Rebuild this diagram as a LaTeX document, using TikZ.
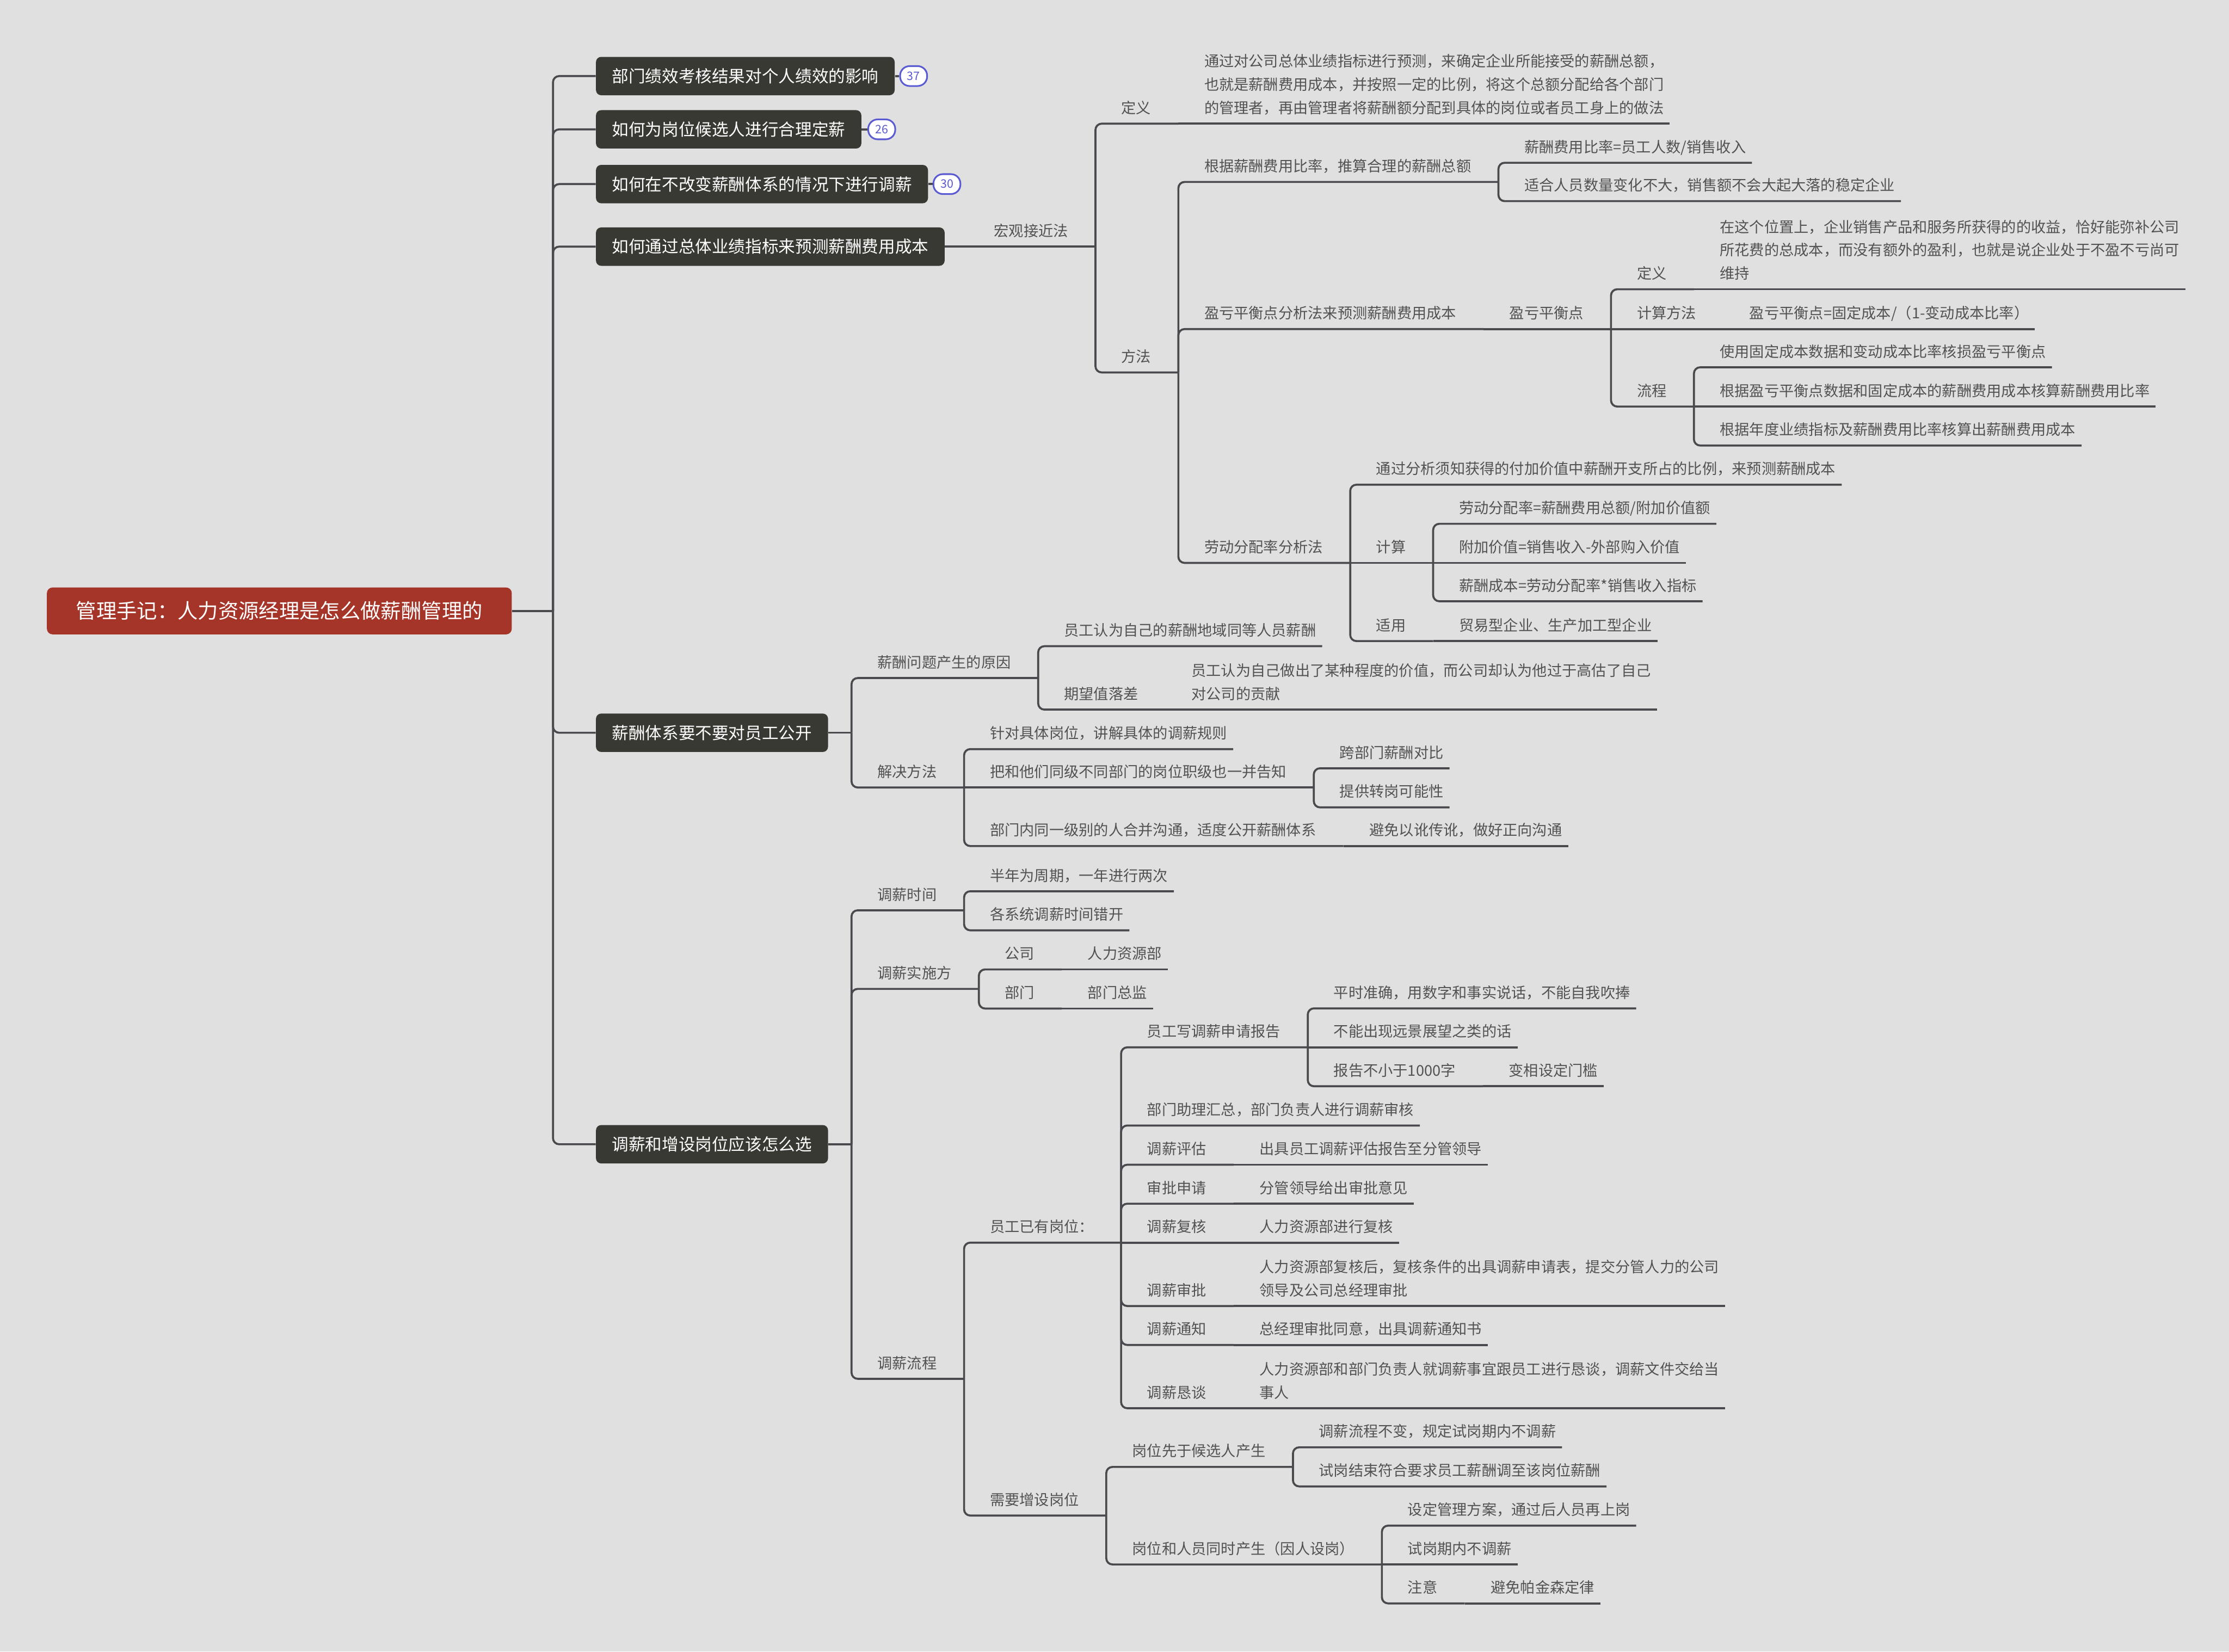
\documentclass[tikz,border=0pt]{standalone}
\usepackage{fontspec}
\setmainfont{Noto Sans CJK SC}
\usepackage{tikz}
\usetikzlibrary{positioning}
\definecolor{bggray}{RGB}{224,224,224}
\definecolor{rootred}{RGB}{165,53,40}
\definecolor{boxdark}{RGB}{57,57,52}
\definecolor{linegray}{RGB}{74,74,78}
\definecolor{txtgray}{RGB}{82,82,82}
\definecolor{badgeblue}{RGB}{90,90,210}
\newcommand\paralines[1]{\begin{tabular}[b]{@{}l@{}}#1\end{tabular}}
\tikzset{
    rootbox/.style={rectangle, rounded corners=0.12cm, fill=rootred, text=white, font=\fontsize{12.2}{14}\selectfont, minimum width=9.81cm, minimum height=0.99cm, inner xsep=0.3cm},
    mainbox/.style={rectangle, rounded corners=0.11cm, fill=boxdark, text=white, font=\fontsize{10}{12}\selectfont, minimum height=0.81cm, inner xsep=0.34cm, anchor=west},
    badge/.style={rectangle, rounded corners=0.2cm, draw=badgeblue, line width=1pt, fill=white, text=badgeblue, font=\fontsize{7}{8}\selectfont, minimum width=0.57cm, minimum height=0.42cm, inner sep=0pt},
    topic/.style={anchor=south west, inner xsep=0pt, inner ysep=0.13cm, text depth=0.08cm, text=txtgray, font=\fontsize{8.9}{14}\selectfont, execute at begin node={\hspace*{0.54cm}}},
    leafnode/.style={topic, execute at end node={\hspace*{0.12cm}}},
    stemnode/.style={topic, execute at end node={\hspace*{0.57cm}}},
    branch/.style={draw=linegray, line width=1.2pt, rounded corners=0.13cm}
}

\begin{document}
\begin{tikzpicture}[x=0.03cm, y=-0.03cm]
    % Background
    \fill[bggray] (0,0) rectangle (1568,1162);

    % Central topic
    \node[rootbox] (root) at (196.5,429.8) {管理手记：人力资源经理是怎么做薪酬管理的};
    \coordinate (trunk) at (389,429.8);

    % Main topics
    \node[mainbox] (m1) at (419,53.5) {部门绩效考核结果对个人绩效的影响};
    \node[mainbox] (m2) at (419,91) {如何为岗位候选人进行合理定薪};
    \node[mainbox] (m3) at (419,129.5) {如何在不改变薪酬体系的情况下进行调薪};
    \node[mainbox] (m4) at (419,173.5) {如何通过总体业绩指标来预测薪酬费用成本};
    \node[mainbox] (m5) at (419,515.5) {薪酬体系要不要对员工公开};
    \node[mainbox] (m6) at (419,805) {调薪和增设岗位应该怎么选};

    % Badges
    \node[badge, right=0.09cm of m1] (b1) {37};
    \node[badge, right=0.12cm of m2] (b2) {26};
    \node[badge, right=0.09cm of m3] (b3) {30};

    % Forecasting the salary cost
    \node[stemnode] (macro) at (681,173.5) {宏观接近法};
    \node[stemnode] (def) at (macro.south east |- 0,87) {定义};
    \node[leafnode] (defText) at (def.south east) {\paralines{通过对公司总体业绩指标进行预测，来确定企业所能接受的薪酬总额，\\也就是薪酬费用成本，并按照一定的比例，将这个总额分配给各个部门\\的管理者，再由管理者将薪酬额分配到具体的岗位或者员工身上的做法}};
    \node[stemnode] (method) at (macro.south east |- 0,262) {方法};
    \node[stemnode] (ratio) at (method.south east |- 0,128) {根据薪酬费用比率，推算合理的薪酬总额};
    \node[leafnode] (ratioFormula) at (ratio.south east |- 0,114.5) {薪酬费用比率=员工人数/销售收入};
    \node[leafnode] (ratioFit) at (ratio.south east |- 0,141.5) {适合人员数量变化不大，销售额不会大起大落的稳定企业};
    \node[stemnode] (breakeven) at (method.south east |- 0,231.5) {盈亏平衡点分析法来预测薪酬费用成本};
    \node[stemnode] (bepoint) at (breakeven.south east) {盈亏平衡点};
    \node[stemnode] (bepDef) at (bepoint.south east |- 0,203.5) {定义};
    \node[leafnode] (bepDefText) at (bepDef.south east) {\paralines{在这个位置上，企业销售产品和服务所获得的的收益，恰好能弥补公司\\所花费的总成本，而没有额外的盈利，也就是说企业处于不盈不亏尚可\\维持}};
    \node[stemnode] (bepCalc) at (bepoint.south east) {计算方法};
    \node[leafnode] (bepFormula) at (bepCalc.south east) {盈亏平衡点=固定成本/（1-变动成本比率）};
    \node[stemnode] (bepFlow) at (bepoint.south east |- 0,286) {流程};
    \node[leafnode] (flow1) at (bepFlow.south east |- 0,258.4) {使用固定成本数据和变动成本比率核损盈亏平衡点};
    \node[leafnode] (flow2) at (bepFlow.south east) {根据盈亏平衡点数据和固定成本的薪酬费用成本核算薪酬费用比率};
    \node[leafnode] (flow3) at (bepFlow.south east |- 0,313.4) {根据年度业绩指标及薪酬费用比率核算出薪酬费用成本};
    \node[stemnode] (labor) at (method.south east |- 0,396) {劳动分配率分析法};
    \node[leafnode] (laborDef) at (labor.south east |- 0,341) {通过分析须知获得的付加价值中薪酬开支所占的比例，来预测薪酬成本};
    \node[stemnode] (laborCalc) at (labor.south east) {计算};
    \node[leafnode] (calc1) at (laborCalc.south east |- 0,368.5) {劳动分配率=薪酬费用总额/附加价值额};
    \node[leafnode] (calc2) at (laborCalc.south east) {附加价值=销售收入-外部购入价值};
    \node[leafnode] (calc3) at (laborCalc.south east |- 0,423) {薪酬成本=劳动分配率*销售收入指标};
    \node[stemnode] (laborUse) at (labor.south east |- 0,451) {适用};
    \node[leafnode] (laborUseText) at (laborUse.south east) {贸易型企业、生产加工型企业};

    % Disclosure of the pay system
    \coordinate (fork5) at (599,515.5);
    \node[stemnode] (cause) at (fork5 |- 0,477) {薪酬问题产生的原因};
    \node[leafnode] (cause1) at (cause.south east |- 0,454.6) {员工认为自己的薪酬地域同等人员薪酬};
    \node[stemnode] (gap) at (cause.south east |- 0,499.2) {期望值落差};
    \node[leafnode] (gapText) at (gap.south east) {\paralines{员工认为自己做出了某种程度的价值，而公司却认为他过于高估了自己\\对公司的贡献}};
    \node[stemnode] (solve) at (fork5 |- 0,554) {解决方法};
    \node[leafnode] (solve1) at (solve.south east |- 0,527) {针对具体岗位，讲解具体的调薪规则};
    \node[stemnode] (solve2) at (solve.south east) {把和他们同级不同部门的岗位职级也一并告知};
    \node[leafnode] (cross) at (solve2.south east |- 0,540.5) {跨部门薪酬对比};
    \node[leafnode] (transfer) at (solve2.south east |- 0,568) {提供转岗可能性};
    \node[stemnode] (solve3) at (solve.south east |- 0,595.2) {部门内同一级别的人合并沟通，适度公开薪酬体系};
    \node[leafnode] (rumor) at (solve3.south east) {避免以讹传讹，做好正向沟通};

    % Adjustment and new posts
    \coordinate (fork6) at (599,805);
    \node[stemnode] (timing) at (fork6 |- 0,640.4) {调薪时间};
    \node[leafnode] (time1) at (timing.south east |- 0,627) {半年为周期，一年进行两次};
    \node[leafnode] (time2) at (timing.south east |- 0,654.5) {各系统调薪时间错开};
    \node[stemnode] (actor) at (fork6 |- 0,695.7) {调薪实施方};
    \node[stemnode] (company) at (actor.south east |- 0,682) {公司};
    \node[leafnode] (hr) at (company.south east) {人力资源部};
    \node[stemnode] (dept) at (actor.south east |- 0,709.5) {部门};
    \node[leafnode] (director) at (dept.south east) {部门总监};
    \node[stemnode] (process) at (fork6 |- 0,970) {调薪流程};
    \node[stemnode] (existing) at (process.south east |- 0,874.2) {员工已有岗位：};
    \node[stemnode] (report) at (existing.south east |- 0,736.8) {员工写调薪申请报告};
    \node[leafnode] (rep1) at (report.south east |- 0,709.4) {平时准确，用数字和事实说话，不能自我吹捧};
    \node[leafnode] (rep2) at (report.south east) {不能出现远景展望之类的话};
    \node[stemnode] (rep3) at (report.south east |- 0,764.2) {报告不小于1000字};
    \node[leafnode] (threshold) at (rep3.south east) {变相设定门槛};
    \node[leafnode] (summary) at (existing.south east |- 0,791.8) {部门助理汇总，部门负责人进行调薪审核};
    \node[stemnode] (assess) at (existing.south east |- 0,819.4) {调薪评估};
    \node[leafnode] (assessText) at (assess.south east) {出具员工调薪评估报告至分管领导};
    \node[stemnode] (apply) at (existing.south east |- 0,846.8) {审批申请};
    \node[leafnode] (applyText) at (apply.south east) {分管领导给出审批意见};
    \node[stemnode] (review) at (existing.south east) {调薪复核};
    \node[leafnode] (reviewText) at (review.south east) {人力资源部进行复核};
    \node[stemnode] (approve) at (existing.south east |- 0,918.8) {调薪审批};
    \node[leafnode] (approveText) at (approve.south east) {\paralines{人力资源部复核后，复核条件的出具调薪申请表，提交分管人力的公司\\领导及公司总经理审批}};
    \node[stemnode] (notice) at (existing.south east |- 0,946.2) {调薪通知};
    \node[leafnode] (noticeText) at (notice.south east) {总经理审批同意，出具调薪通知书};
    \node[stemnode] (talk) at (existing.south east |- 0,990.7) {调薪恳谈};
    \node[leafnode] (talkText) at (talk.south east) {\paralines{人力资源部和部门负责人就调薪事宜跟员工进行恳谈，调薪文件交给当\\事人}};
    \node[stemnode] (newpost) at (process.south east |- 0,1066.2) {需要增设岗位};
    \node[stemnode] (postFirst) at (newpost.south east |- 0,1032) {岗位先于候选人产生};
    \node[leafnode] (pf1) at (postFirst.south east |- 0,1018.2) {调薪流程不变，规定试岗期内不调薪};
    \node[leafnode] (pf2) at (postFirst.south east |- 0,1045.7) {试岗结束符合要求员工薪酬调至该岗位薪酬};
    \node[stemnode] (postSame) at (newpost.south east |- 0,1100.6) {岗位和人员同时产生（因人设岗）};
    \node[leafnode] (ps1) at (postSame.south east |- 0,1073.3) {设定管理方案，通过后人员再上岗};
    \node[leafnode] (ps2) at (postSame.south east) {试岗期内不调薪};
    \node[stemnode] (note) at (postSame.south east |- 0,1128) {注意};
    \node[leafnode] (parkinson) at (note.south east) {避免帕金森定律};

    % Connectors
    \draw[branch] (root.east) -- (trunk);
    \foreach \m in {m1,m2,m3,m4,m5,m6}
        \draw[branch] (trunk) |- (\m.west);
    \foreach \m/\b in {m1/b1,m2/b2,m3/b3}
        \draw[branch] (\m.east) -- (\b.west);
    \draw[branch] (m4.east) -- (macro.south east);
    \draw[branch] (m5.east) -- (fork5);
    \draw[branch] (m6.east) -- (fork6);
    \foreach \f/\c in {fork5/cause,fork5/solve,fork6/timing,fork6/actor,fork6/process}
        \draw[branch] (\f) |- (\c.south east);
    \foreach \p/\c in {macro/def,macro/method,method/ratio,method/breakeven,method/labor,
            ratio/ratioFormula,ratio/ratioFit,bepoint/bepDef,bepoint/bepFlow,bepFlow/flow1,bepFlow/flow3,
            labor/laborDef,labor/laborUse,laborCalc/calc1,laborCalc/calc3,cause/cause1,cause/gap,
            solve/solve1,solve/solve3,solve2/cross,solve2/transfer,timing/time1,timing/time2,
            actor/company,actor/dept,process/existing,process/newpost,existing/report,existing/summary,
            existing/assess,existing/apply,existing/approve,existing/notice,existing/talk,
            report/rep1,report/rep3,newpost/postFirst,newpost/postSame,postFirst/pf1,postFirst/pf2,
            postSame/ps1,postSame/note}
        \draw[branch] (\p.south east) |- (\c.south east);
    \foreach \p/\c in {def/defText,breakeven/bepoint,bepoint/bepCalc,bepDef/bepDefText,bepCalc/bepFormula,
            bepFlow/flow2,labor/laborCalc,laborCalc/calc2,laborUse/laborUseText,gap/gapText,
            solve/solve2,solve3/rumor,company/hr,dept/director,existing/review,report/rep2,
            rep3/threshold,assess/assessText,apply/applyText,review/reviewText,approve/approveText,
            notice/noticeText,talk/talkText,postSame/ps2,note/parkinson}
        \draw[branch] (\p.south east) -- (\c.south east);
\end{tikzpicture}
\end{document}
